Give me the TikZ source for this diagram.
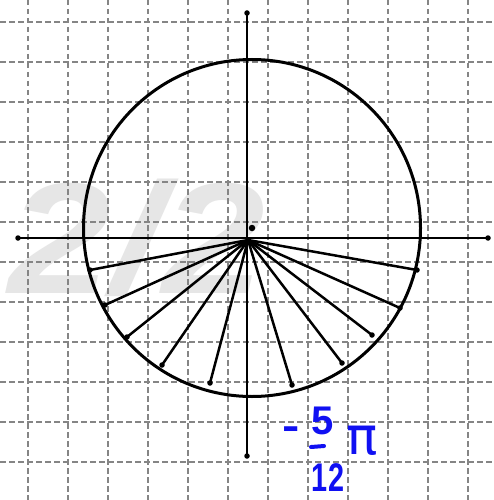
\documentclass[tikz,border=0pt]{standalone}
\usepackage{fontspec}
\setmainfont{Liberation Sans}
\newfontfamily\djv{DejaVu Sans}
\definecolor{gridgray}{HTML}{858585}
\definecolor{wmgray}{HTML}{E6E6E6}
\definecolor{ink}{HTML}{1010F2}
\begin{document}
\begin{tikzpicture}[x=1pt,y=-1pt,
  gridline/.style={gridgray,line width=1.5pt,dash pattern=on 5.5pt off 3.5pt},
  axisline/.style={black,line width=2.8pt},
  ray/.style={black,line width=2.5pt},
  enddot/.style={circle,fill=black,inner sep=0pt,minimum size=5.5pt},
  hand/.style={ink,font=\fontsize{40}{40}\selectfont\bfseries,inner sep=0pt}]
\fill[white] (0,0) rectangle (494,500);
\useasboundingbox (0,0) rectangle (494,500);
% watermark
\node[wmgray, anchor=base west, font=\fontsize{158}{158}\selectfont\bfseries\itshape, inner sep=0pt, xscale=1.17] (wmk) at (8,293) {2/2};
% grid
\foreach \x in {28,68,...,468} \draw[gridline] (\x,0) -- (\x,500);
\foreach \y in {22,62,...,462} \draw[gridline] (0,\y) -- (494,\y);
% circle
\coordinate (C) at (252,228);
\draw[line width=3pt] (C) circle[radius=168.5];
% axes
\coordinate (xl) at (18,238);
\coordinate (xr) at (488,238);
\coordinate (yt) at (247,13);
\coordinate (yb) at (247,456);
\draw[axisline] (xl) -- (xr);
\draw[axisline] (yt) -- (yb);
\foreach \p in {xl,xr,yt,yb} \node[enddot] at (\p) {};
\node[enddot,minimum size=6.5pt] (cdot) at (C) {};
% rays
\coordinate (O) at (248,240);
\foreach \n/\px/\py in {a/90/270,b/105/305,c/127/337,d/162/365,e/210/383,
  f/292/385,g/342/363,h/372/335,i/400/308,j/417/270}{
  \coordinate (\n) at (\px,\py);
  \draw[ray] (O) -- (\n);
  \node[enddot] at (\n) {};
}
% handwritten label
\node[hand,xscale=1.3] (minus) at (291,433) {-};
\node[hand] (five) at (323,421) {5};
\coordinate (barl) at (311,447);
\coordinate (barr) at (324,446);
\draw[ink,line width=4pt,line cap=round] (barl) -- (barr);
\node[hand,xscale=0.72] (twelve) at (328,478) {12};
\node[hand,font=\djv\fontsize{52}{52}\selectfont] (pi) at (362,441) {π};
\end{tikzpicture}
\end{document}
